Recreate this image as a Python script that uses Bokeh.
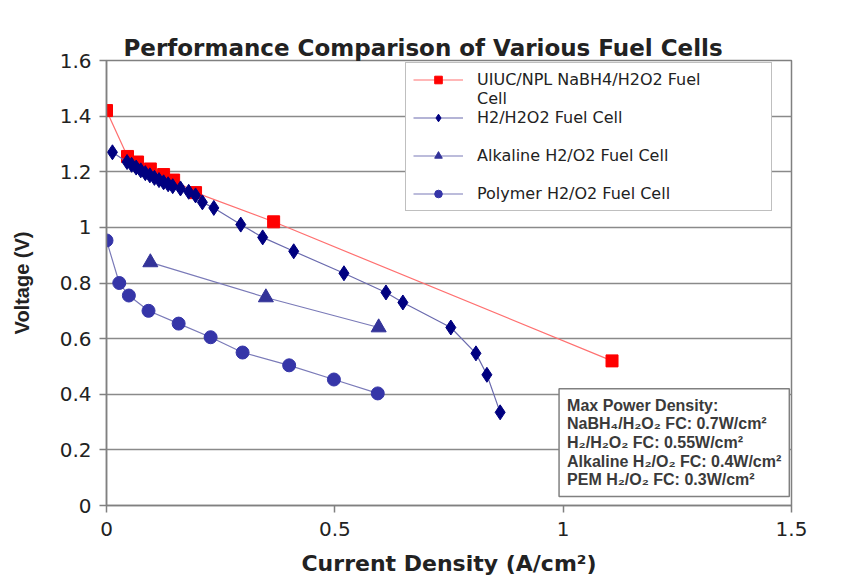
from bokeh.plotting import figure
from bokeh.models import Range1d, FixedTicker, NumeralTickFormatter, Legend, LegendItem, Label
from bokeh.embed import file_html
from bokeh.resources import INLINE

# ---- data ----
nabh4_x = [0.0, 0.046, 0.068, 0.096, 0.125, 0.147, 0.195, 0.366, 1.107]
nabh4_y = [1.42, 1.255, 1.235, 1.21, 1.19, 1.17, 1.125, 1.02, 0.52]

h2h2o2_x = [0.013, 0.045, 0.055, 0.065, 0.075, 0.085, 0.095, 0.105, 0.115, 0.125, 0.135,
            0.145, 0.162, 0.18, 0.195, 0.21, 0.235, 0.294, 0.342, 0.41, 0.52, 0.612,
            0.649, 0.754, 0.809, 0.833, 0.862]
h2h2o2_y = [1.27, 1.235, 1.225, 1.215, 1.205, 1.195, 1.187, 1.178, 1.17, 1.162, 1.155,
            1.148, 1.14, 1.128, 1.115, 1.09, 1.07, 1.01, 0.964, 0.914, 0.835, 0.766,
            0.73, 0.64, 0.547, 0.47, 0.335]

alk_x = [0.096, 0.349, 0.596]
alk_y = [0.874, 0.748, 0.64]

pem_x = [0.0, 0.028, 0.049, 0.092, 0.158, 0.228, 0.298, 0.40, 0.498, 0.594]
pem_y = [0.953, 0.80, 0.755, 0.70, 0.654, 0.605, 0.55, 0.504, 0.453, 0.403]

x_ticks = [0, 0.5, 1, 1.5]
y_ticks = [0, 0.2, 0.4, 0.6, 0.8, 1.0, 1.2, 1.4, 1.6]

series_names = ["UIUC/NPL NaBH4/H2O2 Fuel", "H2/H2O2 Fuel Cell",
                "Alkaline H2/O2 Fuel Cell", "Polymer H2/O2 Fuel Cell"]
series_name_wrap = "Cell"

note_text = ("Max Power Density:\n"
             "NaBH\u2084/H\u2082O\u2082 FC: 0.7W/cm\u00b2\n"
             "H\u2082/H\u2082O\u2082 FC: 0.55W/cm\u00b2\n"
             "Alkaline H\u2082/O\u2082 FC: 0.4W/cm\u00b2\n"
             "PEM H\u2082/O\u2082 FC: 0.3W/cm\u00b2")

WIDE = "'DejaVu Sans', sans-serif"
ARIAL = "'Liberation Sans', Arial, sans-serif"

p = figure(width=863, height=579, output_backend="svg", toolbar_location=None,
           x_range=Range1d(0, 1.5), y_range=Range1d(0, 1.6),
           min_border_left=106, min_border_right=72, min_border_top=60, min_border_bottom=74,
           title="Performance Comparison of Various Fuel Cells")

p.title.align = "left"
p.title.offset = 17
p.title.standoff = 0
p.title.text_font = WIDE
p.title.text_font_size = "23px"
p.title.text_font_style = "bold"
p.title.text_color = "#222222"

p.outline_line_color = "#808080"
p.outline_line_width = 1.5
p.background_fill_color = "white"
p.border_fill_color = "white"

p.xgrid.visible = False
p.ygrid.grid_line_color = "#8a8a8a"
p.ygrid.grid_line_width = 1.5

p.xaxis.ticker = FixedTicker(ticks=x_ticks)
p.yaxis.ticker = FixedTicker(ticks=y_ticks)
p.xaxis.formatter = NumeralTickFormatter(format="0.[0]")
p.yaxis.formatter = NumeralTickFormatter(format="0.[0]")
for ax in (p.xaxis, p.yaxis):
    ax.axis_line_color = "#808080"
    ax.axis_line_width = 1.5
    ax.major_tick_line_color = "#808080"
    ax.major_tick_line_width = 1.5
    ax.minor_tick_line_color = None
    ax.major_tick_in = 0
    ax.major_tick_out = 7
    ax.major_label_text_font = WIDE
    ax.major_label_text_font_size = "20px"
    ax.major_label_text_color = "#222222"
    ax.axis_label_text_font_style = "bold"
    ax.axis_label_text_color = "#222222"

p.xaxis.axis_label = "Current Density (A/cm\u00b2)"
p.xaxis.axis_label_text_font = WIDE
p.xaxis.axis_label_text_font_size = "22px"
p.xaxis.major_label_standoff = 9
p.xaxis.axis_label_standoff = 12
p.yaxis.axis_label = "Voltage (V)"
p.yaxis.axis_label_text_font = ARIAL
p.yaxis.axis_label_text_font_size = "20px"
p.yaxis.major_label_standoff = 8
p.yaxis.axis_label_standoff = 24

# ---- series ----
r1l = p.line(nabh4_x, nabh4_y, line_color="#ff7070", line_width=1.2)
r1s = p.scatter(nabh4_x, nabh4_y, marker="square", size=12, fill_color="#ff0000", line_color="#ff0000")

r2l = p.line(h2h2o2_x, h2h2o2_y, line_color="#6a6aae", line_width=1.2)
r2s = p.scatter(h2h2o2_x, h2h2o2_y, marker="diamond", size=15, fill_color="#000080", line_color="#000080")

r3l = p.line(alk_x, alk_y, line_color="#7a7ab8", line_width=1.2)
r3s = p.scatter(alk_x, alk_y, marker="triangle", size=15, fill_color="#333399", line_color="#333399")

r4l = p.line(pem_x, pem_y, line_color="#7a7ab8", line_width=1.2)
r4s = p.scatter(pem_x, pem_y, marker="circle", size=13, fill_color="#3535a8", line_color="#3535a8")

# invisible renderer used for the wrapped second line and for row spacing in the legend
blank = p.line([], [], line_alpha=0)

legend = Legend(items=[
    LegendItem(label=series_names[0], renderers=[r1l, r1s]),
    LegendItem(label=series_name_wrap, renderers=[blank]),
    LegendItem(label=series_names[1], renderers=[r2l, r2s]),
    LegendItem(label=" ", renderers=[blank]),
    LegendItem(label=series_names[2], renderers=[r3l, r3s]),
    LegendItem(label=" ", renderers=[blank]),
    LegendItem(label=series_names[3], renderers=[r4l, r4s]),
], location=(299, 294))
legend.label_text_font = WIDE
legend.label_text_font_size = "16px"
legend.label_text_color = "#222222"
legend.glyph_width = 50
legend.glyph_height = 19
legend.label_height = 19
legend.label_standoff = 14
legend.label_width = 287
legend.spacing = 0
legend.padding = 7
legend.margin = 0
legend.border_line_color = "#808080"
legend.border_line_width = 1.5
legend.background_fill_color = "white"
legend.background_fill_alpha = 1.0
p.add_layout(legend, "center")

note = Label(x=0.991, y=0.42, x_units="data", y_units="data", text=note_text,
             text_font=ARIAL, text_font_size="16px", text_font_style="bold",
             text_color="#3a3a3a", text_align="left", text_baseline="top",
             text_line_height=1.1,
             background_fill_color="white", background_fill_alpha=1.0,
             border_line_color="#808080", border_line_width=1.5, padding=8)
p.add_layout(note)

open("out.html", "w").write(file_html(p, INLINE))
